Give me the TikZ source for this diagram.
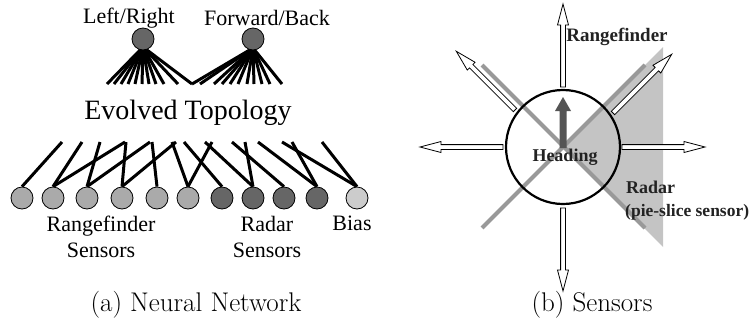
\documentclass[tikz,border=0pt]{standalone}
\usepackage{fontspec}
\setmainfont{Liberation Serif}
\usetikzlibrary{backgrounds}
\definecolor{darknode}{HTML}{666666}
\definecolor{rangenode}{HTML}{AAAAAA}
\definecolor{biasnode}{HTML}{CCCCCC}
\definecolor{xline}{HTML}{999999}
\definecolor{wedgefill}{HTML}{C4C4C4}
\definecolor{headfill}{HTML}{555555}
\definecolor{labeltext}{HTML}{222222}
% open rangefinder arrow: start point, direction angle
\newcommand{\rangearrow}[2]{%
  \begin{scope}[shift={#1},rotate=#2]
    \draw[fill=white,line width=0.8pt,line join=miter]
      (0,-2.4) -- (62,-2.4) -- (62,-5.5) -- (83,0) -- (62,5.5) -- (62,2.4) -- (0,2.4) -- cycle;
  \end{scope}}
\begin{document}
\begin{tikzpicture}[x=1pt,y=-1pt,
  nnode/.style={circle,draw,line width=0.8pt,minimum size=22pt,inner sep=0pt},
  outnode/.style={nnode,fill=darknode},
  rangenn/.style={nnode,fill=rangenode},
  radarnn/.style={nnode,fill=darknode},
  biasnn/.style={nnode,fill=biasnode},
  wire/.style={line width=3pt},
  netlabel/.style={font=\fontsize{22}{24}\selectfont,align=center},
  senslabel/.style={font=\bfseries\fontsize{18}{20}\selectfont,text=labeltext,inner sep=0pt},
  caption/.style={font=\fontfamily{lmr}\fontsize{27}{30}\selectfont}]
\useasboundingbox (0,0) rectangle (751,335);

% ---------- (a) neural network ----------
\node[outnode] (lr) at (143,39) {};
\node[outnode] (fb) at (253,39) {};
\node[netlabel] at (129,18) {Left/Right};
\node[netlabel] at (267,18) {Forward/Back};
\node[font=\fontsize{28}{30}\selectfont] (topo) at (188,113) {Evolved Topology};

\foreach \x/\k in {22/1,53/2,87/3,122/4,157/5,188/6}
  \node[rangenn] (s\k) at (\x,198) {};
\foreach \x/\k in {222/7,253/8,284/9,317/10}
  \node[radarnn] (s\k) at (\x,198) {};
\node[biasnn] (s11) at (357,198) {};

\node[netlabel] at (101,237) {Rangefinder\\[2pt]Sensors};
\node[netlabel] at (267,237) {Radar\\[2pt]Sensors};
\node[netlabel] at (352,223) {Bias};

\begin{pgfonlayer}{background}
  \foreach \x in {107,114,121,128,135,142,149,156,164,178,192}
    \draw[wire] ([yshift=-8pt]lr.center) -- (\x,84);
  \foreach \x in {192,200,214,222,230,238,247,254,262,270,282}
    \draw[wire] ([yshift=-9pt]fb.center) -- (\x,84);
  \foreach \k/\x in {1/62,2/82,2/125,3/100,3/150,4/126,4/176,5/152,6/172,6/212,
                     7/184,8/205,8/245,9/232,10/258,10/292,11/282,11/322}
    \draw[wire] (s\k.north) -- (\x,142);
\end{pgfonlayer}

\node[caption] at (196,305) {(a) Neural Network};

% ---------- (b) sensors ----------
\node[circle,fill=white,minimum size=114pt,inner sep=0pt] (body) at (563,147) {};
\fill[wedgefill] (body.center) -- (663,47) -- (663,247) -- cycle;
\draw[xline,line width=4pt] (482,65) -- (645,228);
\draw[xline,line width=4pt] (645,65) -- (482,228);
\draw[line width=2.2pt] (body.center) circle[radius=57pt];

\fill[headfill] (559.5,148) -- (559.5,111) -- (555,111) -- (563,97)
  -- (571,111) -- (566.5,111) -- (566.5,148) -- cycle;

\rangearrow{(563,87)}{90}
\rangearrow{(503,147)}{180}
\rangearrow{(622,147)}{0}
\rangearrow{(563,208)}{270}
\rangearrow{(515,110)}{135}
\rangearrow{(613,113)}{45}

\node[senslabel,font=\bfseries\fontsize{19}{21}\selectfont] at (617,37) {Rangefinder};
\node[senslabel] at (565,157) {Heading};
\node[senslabel,anchor=west] at (626,187) {Radar};
\node[senslabel,anchor=west,font=\bfseries\fontsize{17.5}{20}\selectfont] at (625,212) {(pie-slice sensor)};

\node[caption] at (592,305) {(b) Sensors};
\end{tikzpicture}
\end{document}
